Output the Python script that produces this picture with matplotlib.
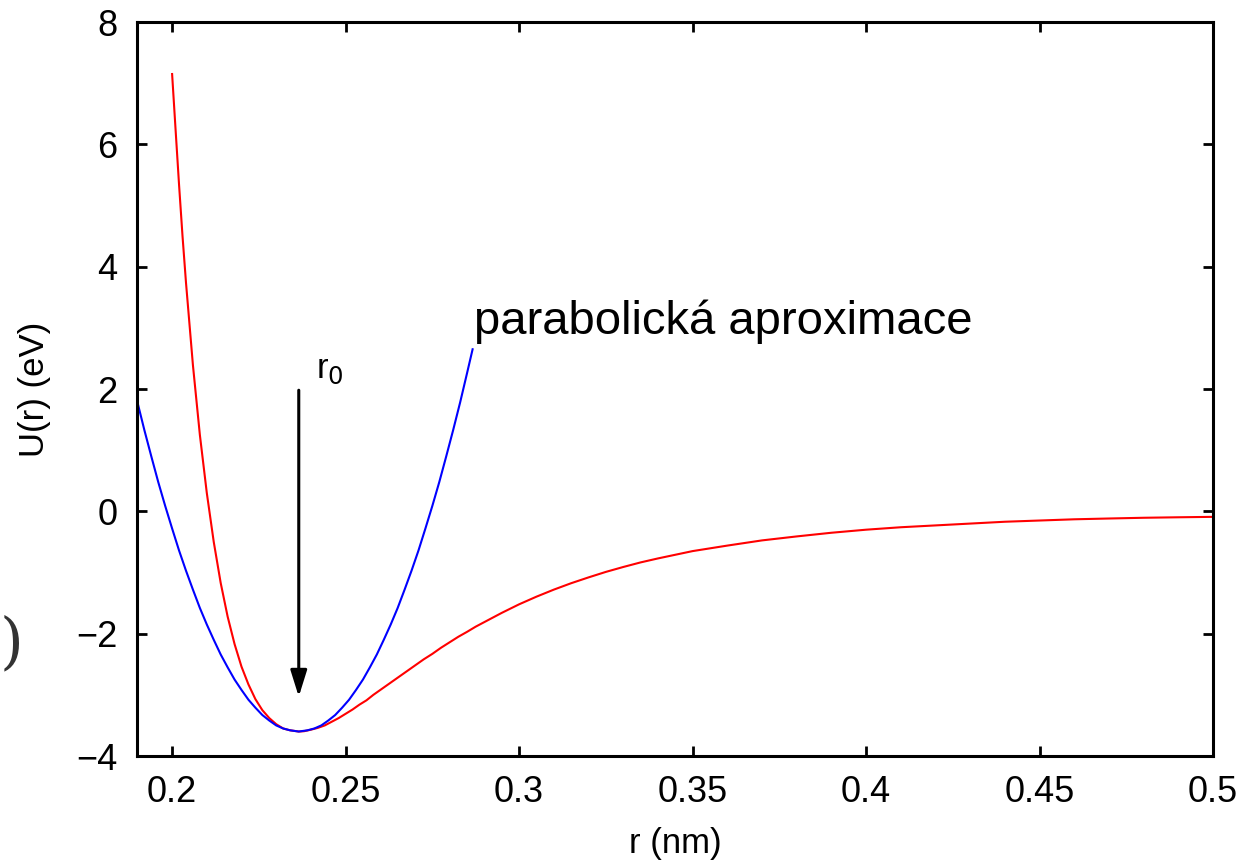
import matplotlib
matplotlib.use("Agg")
import matplotlib.pyplot as plt

# potential curve U(r)
r_pot = [0.200, 0.201, 0.202, 0.203, 0.204, 0.206, 0.208, 0.210, 0.212, 0.214,
         0.216, 0.218, 0.220, 0.222, 0.224, 0.226, 0.228, 0.230, 0.232, 0.234,
         0.2365, 0.238, 0.240, 0.242, 0.244, 0.246, 0.248, 0.250, 0.252, 0.254,
         0.256, 0.258, 0.260, 0.2625, 0.265, 0.2675, 0.270, 0.2725, 0.275, 0.2775,
         0.280, 0.2825, 0.285, 0.2875, 0.290, 0.295, 0.300, 0.305, 0.310, 0.315,
         0.320, 0.325, 0.330, 0.335, 0.340, 0.345, 0.350, 0.360, 0.370, 0.380,
         0.390, 0.400, 0.410, 0.420, 0.430, 0.440, 0.450, 0.460, 0.470, 0.480,
         0.490, 0.500]
u_pot = [7.15, 6.24, 5.34, 4.50, 3.74, 2.39, 1.25, 0.30, -0.50, -1.17,
         -1.72, -2.17, -2.54, -2.83, -3.07, -3.25, -3.38, -3.48, -3.55, -3.58,
         -3.60, -3.595, -3.57, -3.54, -3.50, -3.44, -3.38, -3.31, -3.24, -3.16,
         -3.09, -3.00, -2.92, -2.82, -2.72, -2.62, -2.52, -2.42, -2.33, -2.23,
         -2.14, -2.05, -1.97, -1.885, -1.81, -1.66, -1.52, -1.395, -1.28, -1.175,
         -1.08, -0.99, -0.91, -0.835, -0.77, -0.71, -0.65, -0.56, -0.475, -0.41,
         -0.35, -0.30, -0.26, -0.23, -0.20, -0.17, -0.15, -0.13, -0.117, -0.105,
         -0.097, -0.09]

# parabolic approximation around the minimum
r_par = [0.1899, 0.192, 0.194, 0.196, 0.198, 0.200, 0.202, 0.204, 0.206, 0.208,
         0.210, 0.212, 0.214, 0.216, 0.218, 0.220, 0.222, 0.224, 0.226, 0.228,
         0.230, 0.232, 0.234, 0.2365, 0.239, 0.241, 0.243, 0.245, 0.247, 0.249,
         0.251, 0.253, 0.255, 0.257, 0.259, 0.261, 0.263, 0.265, 0.267, 0.269,
         0.271, 0.273, 0.275, 0.277, 0.279, 0.281, 0.283, 0.285, 0.2866]
u_par = [1.81, 1.33, 0.90, 0.48, 0.09, -0.28, -0.64, -0.97, -1.28, -1.58,
         -1.85, -2.10, -2.34, -2.55, -2.75, -2.92, -3.08, -3.21, -3.33, -3.42,
         -3.50, -3.55, -3.58, -3.60, -3.58, -3.55, -3.50, -3.42, -3.33, -3.21,
         -3.08, -2.92, -2.75, -2.55, -2.34, -2.10, -1.85, -1.58, -1.28, -0.97,
         -0.64, -0.28, 0.09, 0.48, 0.90, 1.33, 1.78, 2.26, 2.65]

x_ticks = [0.2, 0.25, 0.3, 0.35, 0.4, 0.45, 0.5]
x_tick_labels = ["0.2", "0.25", "0.3", "0.35", "0.4", "0.45", "0.5"]
y_ticks = [-4, -2, 0, 2, 4, 6, 8]

r0 = 0.2365

plt.rcParams['font.family'] = ['Liberation Sans', 'DejaVu Sans']

fig = plt.figure(figsize=(12.46, 8.64), dpi=100)
ax = fig.add_axes([0.1100, 0.1250, 0.8636, 0.8495])

ax.plot(r_pot, u_pot, color='#ff0000', lw=1.5)
ax.plot(r_par, u_par, color='#0000ff', lw=1.5)

# arrow pointing at r0
ax.annotate('', xy=(r0, -3.03), xytext=(r0, 1.98),
            arrowprops=dict(arrowstyle='-|>,head_length=0.8,head_width=0.25',
                            lw=2.2, color='black', mutation_scale=20,
                            shrinkA=0, shrinkB=0))
ax.text(0.2414, 2.18, r'r$_0$', fontsize=25, ha='left', va='baseline')
ax.text(0.2869, 2.90, 'parabolická aproximace', fontsize=34,
        ha='left', va='baseline')

ax.set_xlim(0.1899, 0.5)
ax.set_ylim(-4, 8)
ax.set_xticks(x_ticks)
ax.set_xticklabels(x_tick_labels)
ax.set_yticks(y_ticks)

ax.tick_params(direction='in', length=7.5, width=2.0, labelsize=26,
               top=True, right=True, pad=14)
for sp in ax.spines.values():
    sp.set_linewidth(2.2)

ax.set_xlabel('r (nm)', fontsize=25, labelpad=12)
ax.set_ylabel('U(r) (eV)', fontsize=25, labelpad=18)

# piece of a bracket from the surrounding page at the left edge
fig.text(0.0, 1 - 644 / 864, ')', fontsize=44, ha='left', va='center',
         color='#333333', family='DejaVu Serif', fontweight='light')

fig.savefig('out.png', dpi=100)
